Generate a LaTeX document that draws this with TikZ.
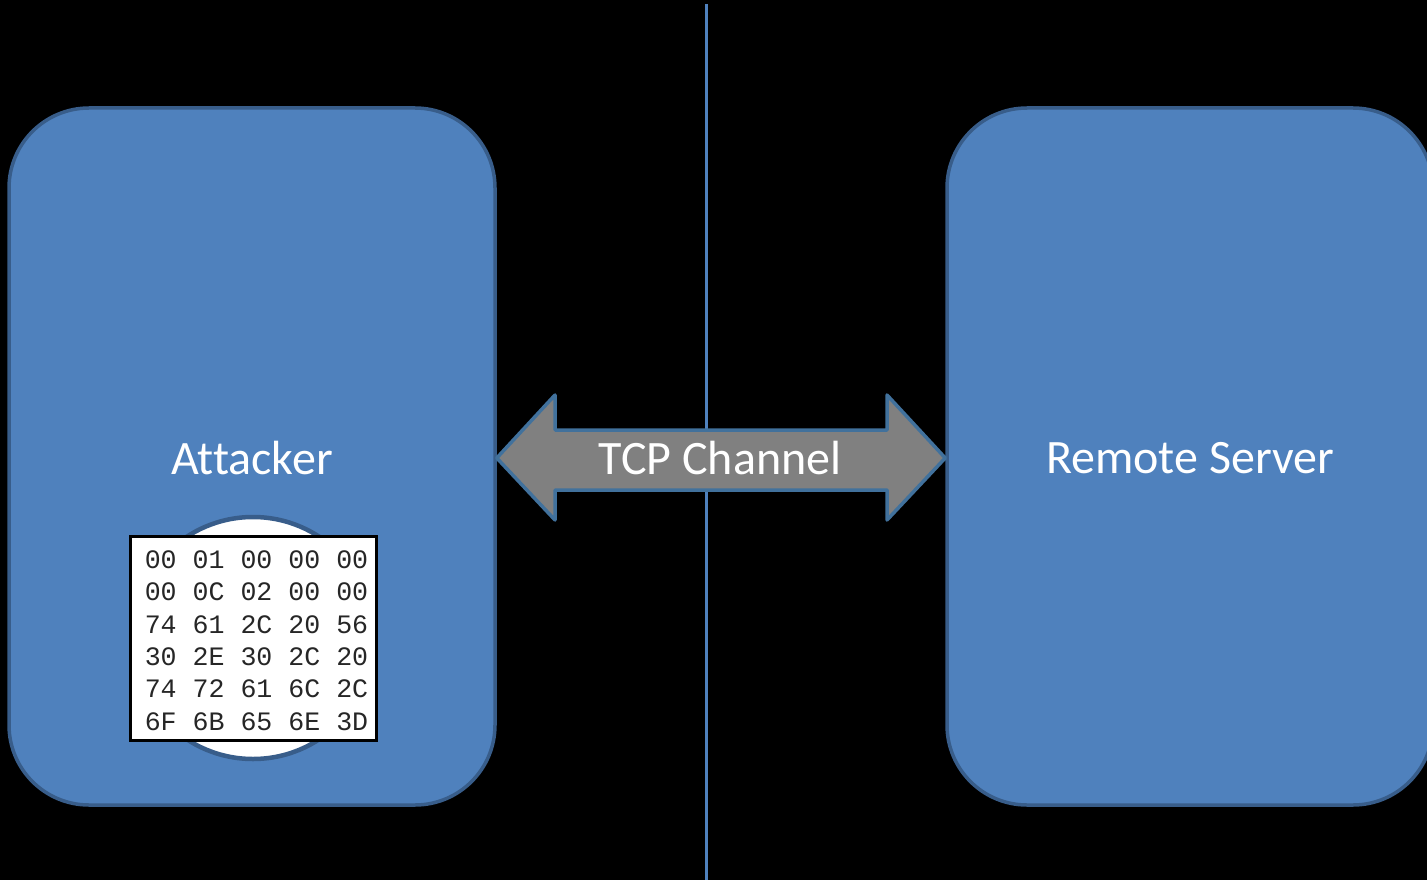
\documentclass[tikz,border=0pt]{standalone}
\usepackage{fontspec}
\setmainfont{Carlito}[Ligatures={NoCommon}]
\newfontfamily\hexfont{Liberation Mono}
\definecolor{boxfill}{HTML}{4F81BD}
\definecolor{boxline}{HTML}{385D8A}
\definecolor{arrfill}{HTML}{808080}
\definecolor{arrline}{HTML}{41719C}
\begin{document}
\begin{tikzpicture}[x=1pt,y=-1pt,
  party/.style={draw=boxline,line width=3.5pt,fill=boxfill,rounded corners=80pt,
    minimum width=486pt,minimum height=697pt,inner sep=0pt},
  lbl/.style={text=white,font=\fontsize{48}{52}\selectfont},
  chan/.style={draw=arrline,line width=3.5pt,fill=arrfill,line join=round}]
\useasboundingbox (0,0) rectangle (1427,880);
\fill[black] (0,0) rectangle (1427,880);
\clip (0,0) rectangle (1427,880);
\coordinate (ltop) at (706,4);
\coordinate (lbot) at (706,880);
\draw[boxfill,line width=3pt] (ltop) -- (lbot);
\node[party] (att) at (252,456.5) {};
\node[lbl] (attlbl) at (252,458) {Attacker};
\node[party] (srv) at (1190,456.5) {};
\node[lbl] (srvlbl) at (1190,458) {Remote Server};
\draw[chan] (att.east |- 0,458) -- (555,395) -- (555,430) -- (887,430) -- (887,395)
  -- (srv.west |- 0,458) -- (887,520) -- (887,490) -- (555,490) -- (555,520) -- cycle;
\node[lbl] (tcp) at (720,458) {TCP Channel};
\node[circle,draw=boxline,line width=4.5pt,fill=white,minimum size=242pt,inner sep=0pt] (disk) at (253,638) {};
\node[draw=black,line width=3pt,fill=white,minimum width=246pt,minimum height=204pt,inner sep=0pt] (hex) at (253,638) {};
\node[font=\hexfont\fontsize{26.6}{32.3}\selectfont,align=left,text=black!85,inner sep=0pt] (hextxt) at (256.5,640.5)
{00 01 00 00 00\\00 0C 02 00 00\\74 61 2C 20 56\\30 2E 30 2C 20\\74 72 61 6C 2C\\6F 6B 65 6E 3D};
\end{tikzpicture}
\end{document}
